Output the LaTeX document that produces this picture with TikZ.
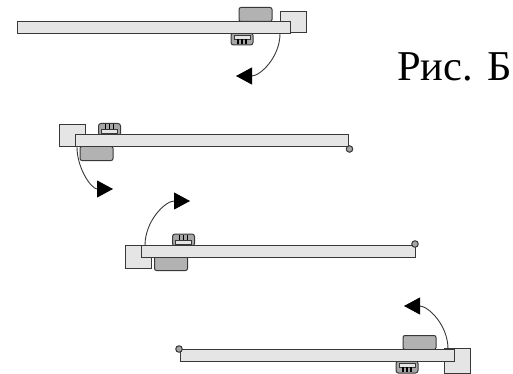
\documentclass[tikz,border=0pt]{standalone}
\usepackage{fontspec}
\setmainfont{Liberation Serif}
\usetikzlibrary{arrows.meta}
\definecolor{platefill}{gray}{0.90}
\definecolor{padfill}{gray}{0.70}
\definecolor{edgecol}{gray}{0.22}
\tikzset{
    plate/.style={draw=edgecol,fill=platefill,line width=1.2pt,inner sep=0pt,minimum height=12pt},
    block/.style={draw=edgecol,fill=platefill,line width=1pt,inner sep=0pt,minimum width=26pt},
    pad/.style={draw=edgecol,fill=padfill,line width=1pt,rounded corners=2pt,inner sep=0pt,minimum width=33pt,minimum height=14pt},
    pin/.style={circle,draw=edgecol,fill=gray!70,line width=1pt,inner sep=0pt,minimum size=6.5pt},
    turn/.style={draw=edgecol,line width=0.9pt,-{Triangle[length=16pt,width=17pt,color=black]}},
    chip/.pic={
        \draw[draw=edgecol,fill=gray!70,line width=1pt,rounded corners=2.5pt] (-11,-6) rectangle (11,6);
        \draw[draw=edgecol,fill=platefill,line width=0.8pt] (-8,-4) rectangle (8,0);
        \foreach \i in {-4,0,4}
            \draw[black,line width=1.6pt] (\i,0) -- (\i,5);
    }
}

\begin{document}
\begin{tikzpicture}[x=1pt,y=-1pt]
    \useasboundingbox (0,0) rectangle (513,374);
    % first position
    \node[block,minimum height=21pt] (blockA) at (293,22.5) {};
    \node[pad] (padA) at (255.5,14.5) {};
    \pic at (242,39) {chip};
    \node[plate,minimum width=273pt] (plateA) at (154,27.5) {};
    \coordinate (startA) at (280,33.5);
    \coordinate (endA) at (236,76);
    \draw[turn] (startA) to[out=-90,in=0] (endA);
    \node[font=\fontsize{42.5}{42.5}\selectfont,anchor=base west,inner sep=0pt] (caption) at (397,81) {Рис. Б};
    % second position
    \node[block,minimum height=22pt] (blockB) at (72.5,135.5) {};
    \node[pad] (padB) at (96.5,153.5) {};
    \pic[yscale=-1] at (109.5,129.5) {chip};
    \node[plate,minimum width=273pt] (plateB) at (212,140.5) {};
    \node[pin] (pinB) at (349.5,149) {};
    \coordinate (startB) at (77,147);
    \coordinate (endB) at (113,189);
    \draw[turn] (startB) to[out=-90,in=180] (endB);
    % third position
    \node[block,minimum height=23pt] (blockC) at (138.5,256.5) {};
    \node[pad] (padC) at (171,263.5) {};
    \pic[yscale=-1] at (183.5,240) {chip};
    \node[plate,minimum width=274pt] (plateC) at (278.5,251.5) {};
    \node[pin] (pinC) at (415,244) {};
    \coordinate (startC) at (145,245.5);
    \coordinate (endC) at (190,201);
    \draw[turn] (startC) to[out=90,in=180] (endC);
    % fourth position
    \node[block,minimum height=25pt] (blockD) at (457.5,360.5) {};
    \node[pad] (padD) at (419.5,342.5) {};
    \pic at (407,367) {chip};
    \node[plate,minimum width=274pt] (plateD) at (317.5,355.5) {};
    \node[pin] (pinD) at (179,349) {};
    \coordinate (startD) at (448,349);
    \coordinate (endD) at (404,306);
    \draw[turn] (startD) to[out=90,in=0] (endD);
\end{tikzpicture}
\end{document}
